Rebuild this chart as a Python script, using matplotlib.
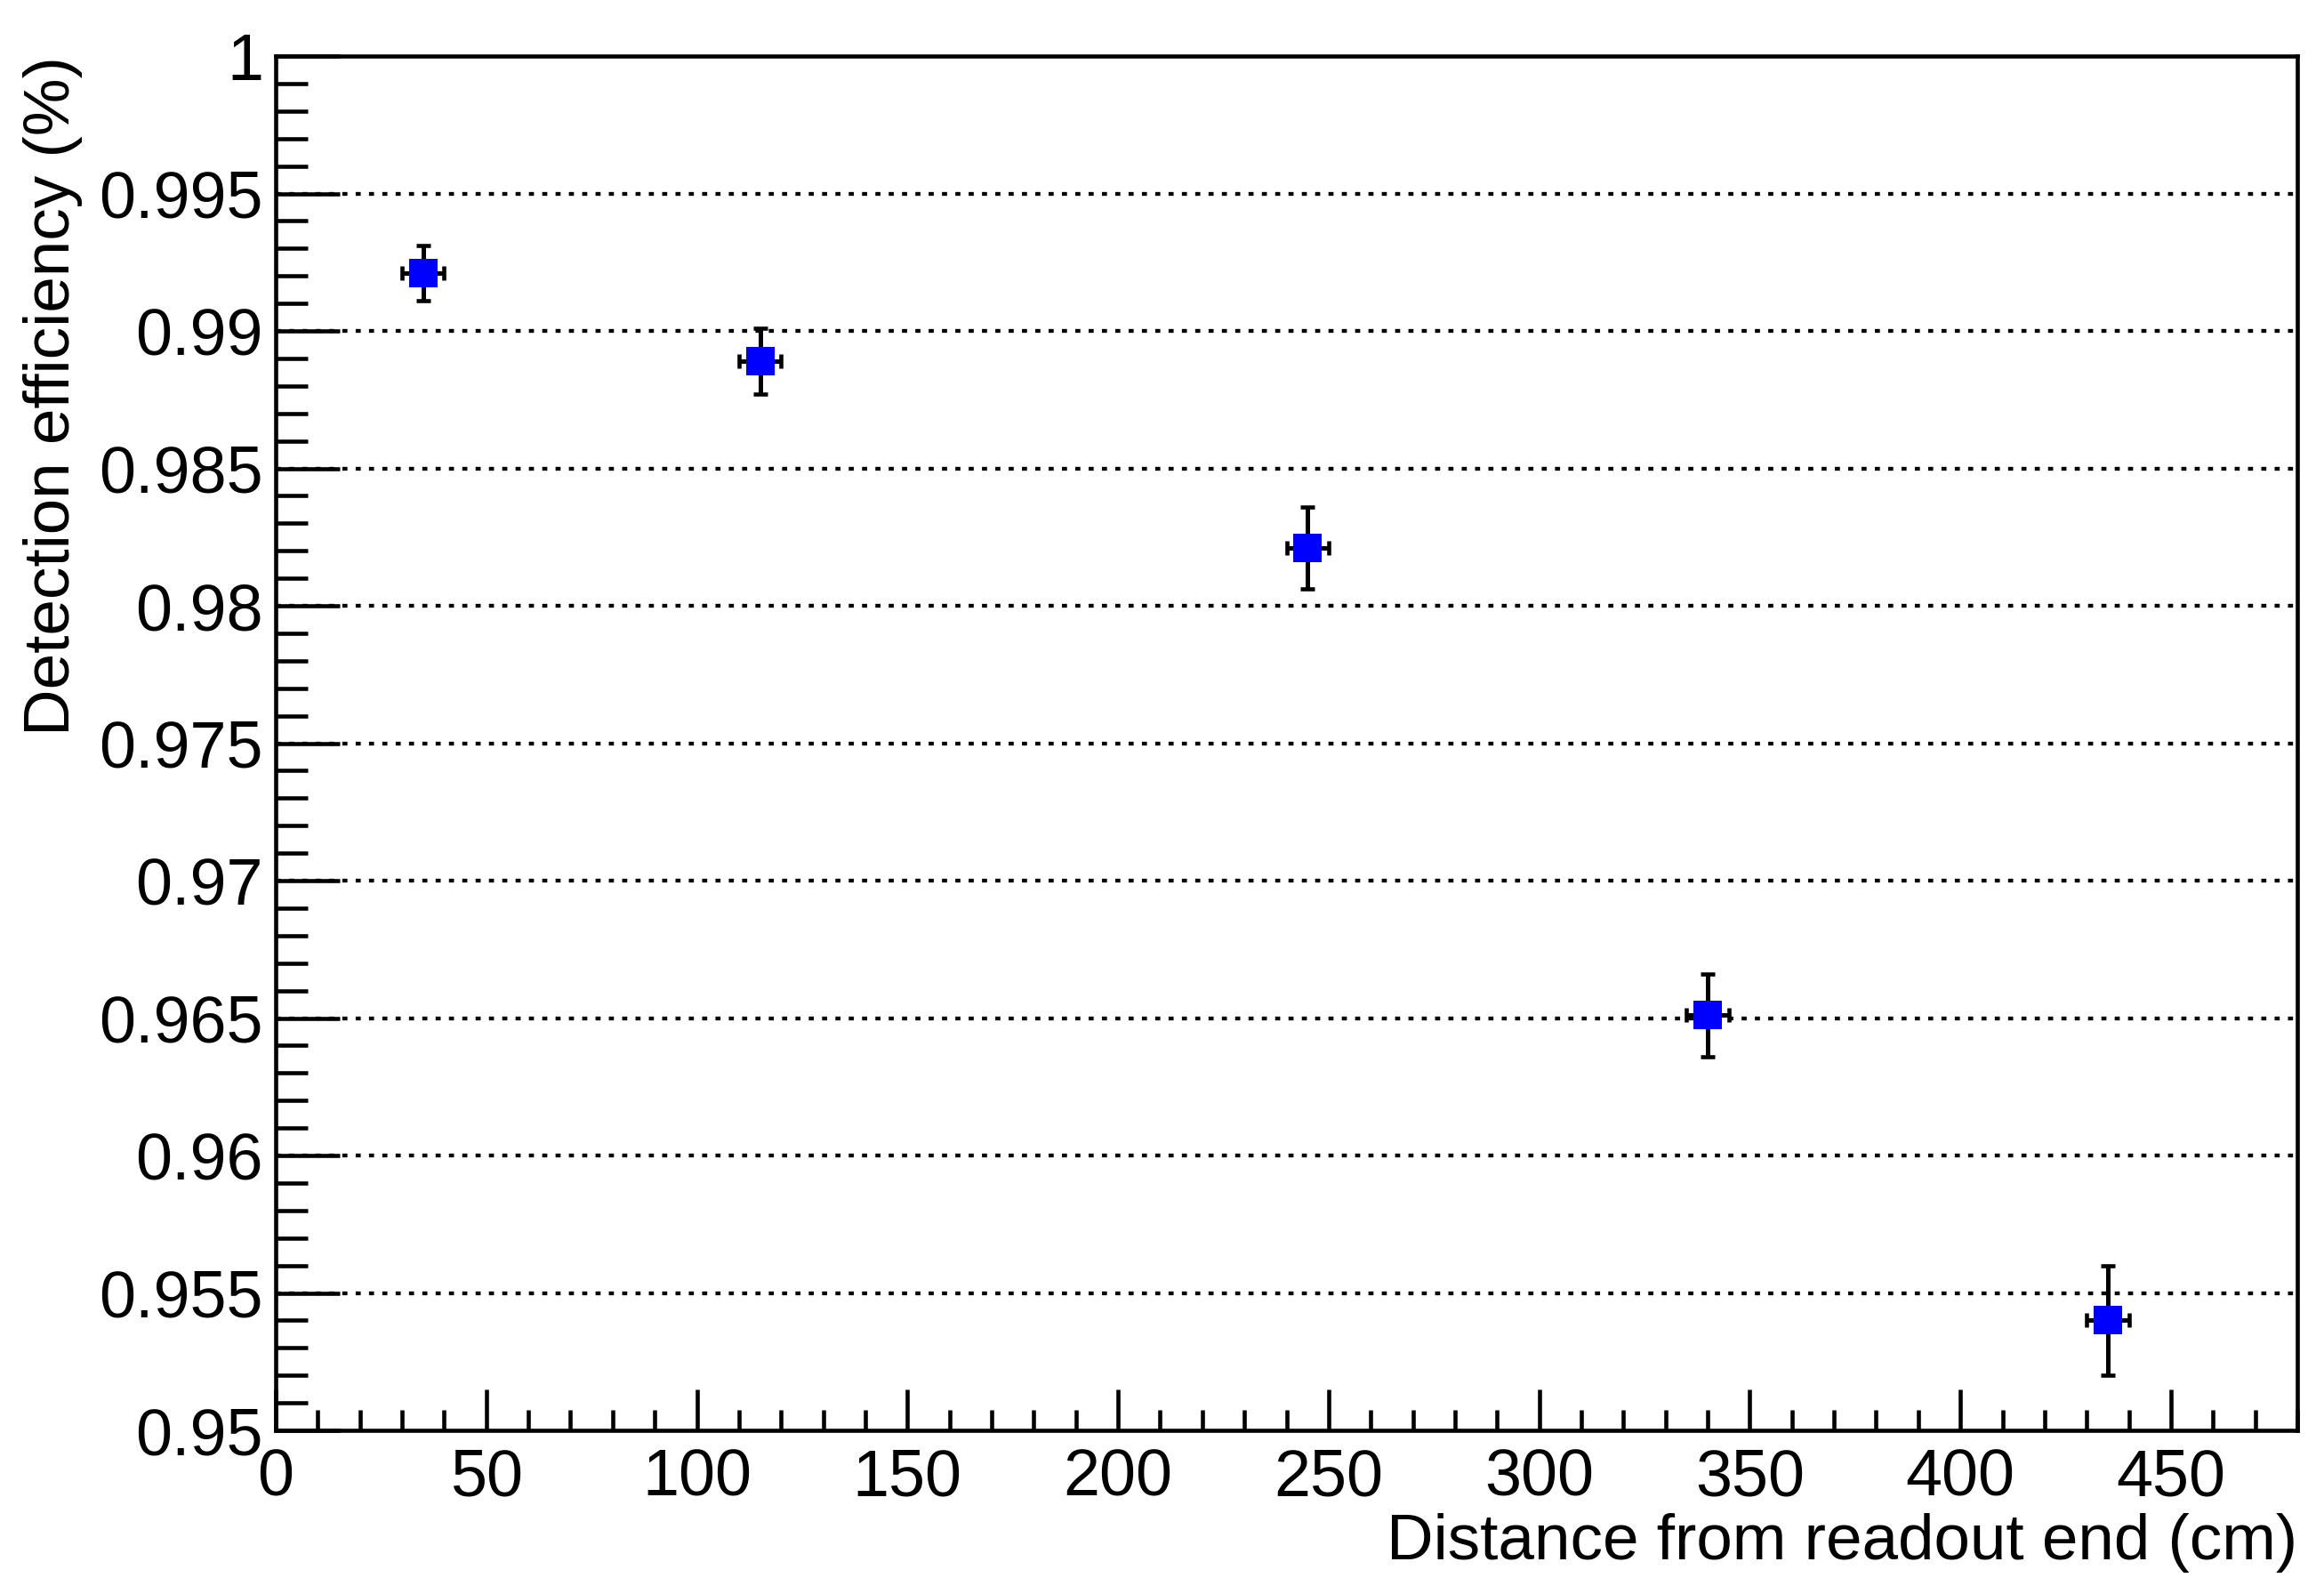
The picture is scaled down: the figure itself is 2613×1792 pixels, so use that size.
import matplotlib
matplotlib.use("Agg")
import matplotlib.pyplot as plt
from matplotlib.ticker import MultipleLocator

# data
distance = [35, 115, 245, 340, 435]
distance_err = [5, 5, 5, 5, 5]
efficiency = [0.9921, 0.9889, 0.9821, 0.9651, 0.9540]
efficiency_err = [0.0010, 0.0012, 0.0015, 0.0015, 0.0020]
y_ticks = [0.95, 0.955, 0.96, 0.965, 0.97, 0.975, 0.98, 0.985, 0.99, 0.995, 1.0]
y_tick_labels = ["0.95", "0.955", "0.96", "0.965", "0.97", "0.975",
                 "0.98", "0.985", "0.99", "0.995", "1"]

plt.rcParams["font.family"] = ["Liberation Sans", "DejaVu Sans"]

W, H, DPI = 2613, 1792, 100
fig = plt.figure(figsize=(W / DPI, H / DPI), dpi=DPI)
ax = fig.add_axes([310 / W, 1 - 1608 / H, (2583 - 310) / W, (1608 - 63) / H])

# horizontal dotted grid at the major y ticks
for yv in y_ticks[1:-1]:
    ax.axhline(yv, color="black", lw=3.1, dashes=(1.32, 2.16),
               dash_capstyle="butt", zorder=1)

# error bars first, then the square markers on top
ax.errorbar(distance, efficiency, xerr=distance_err, yerr=efficiency_err,
            fmt="none", ecolor="black", elinewidth=3.6, capsize=6,
            capthick=3.3, zorder=3)
ax.plot(distance, efficiency, "s", color="blue", markersize=23.5,
        markeredgewidth=0, zorder=4)

ax.set_xlim(0, 480)
ax.set_ylim(0.95, 1.0)

ax.xaxis.set_major_locator(MultipleLocator(50))
ax.xaxis.set_minor_locator(MultipleLocator(10))
ax.set_yticks(y_ticks)
ax.set_yticklabels(y_tick_labels)
ax.yaxis.set_minor_locator(MultipleLocator(0.001))

ax.tick_params(axis="both", which="both", direction="in", width=3.3,
               labelsize=53, top=False, right=False)
ax.tick_params(axis="y", which="major", length=52, pad=10)
ax.tick_params(axis="y", which="minor", length=26)
ax.tick_params(axis="x", which="major", length=33, pad=14)
ax.tick_params(axis="x", which="minor", length=16.5)

for sp in ax.spines.values():
    sp.set_linewidth(3.3)

fig.text(2583 / W, 1 - 1753 / H, "Distance from readout end (cm)",
         ha="right", va="baseline", fontsize=52.5)
fig.text(60 / W, 1 - 63 / H, "Detection efficiency (%)",
         rotation=90, ha="center", va="top", fontsize=52.5)

fig.savefig("out.png", dpi=DPI)
